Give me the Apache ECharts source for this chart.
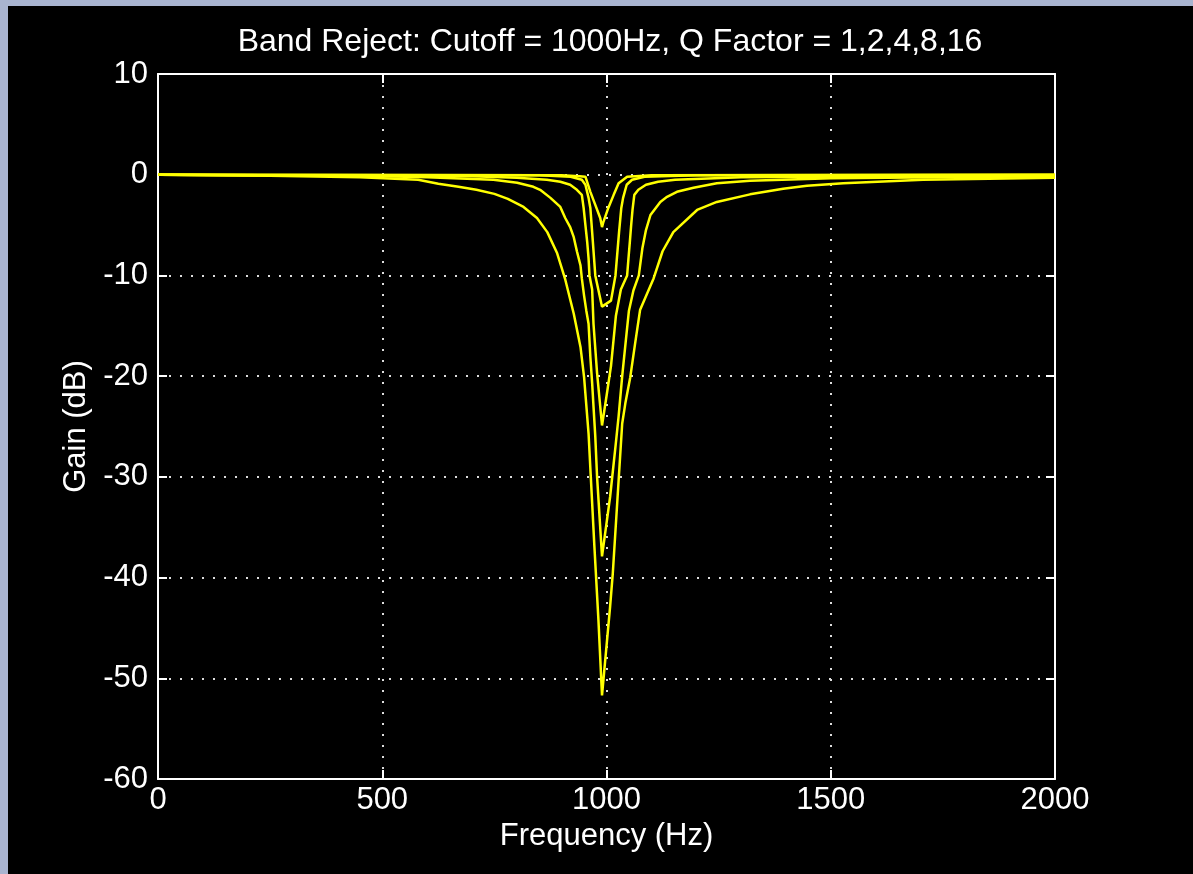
<!DOCTYPE html>
<html><head><meta charset="utf-8">
<script src="https://cdn.jsdelivr.net/npm/echarts@6/dist/echarts.min.js"></script>
<style>html,body{margin:0;padding:0;background:#000}#c{width:1193px;height:874px}</style>
</head><body><div id="c"></div>
<script>
const titleText = 'Band Reject: Cutoff = 1000Hz, Q Factor = 1,2,4,8,16';
const xTicks = [0, 500, 1000, 1500, 2000];
const yTicks = [10, 0, -10, -20, -30, -40, -50, -60];

const freqQ1 = [0, 250, 450, 580, 625, 670, 710, 750, 780, 815, 845, 868, 890, 908, 927, 942, 950, 960, 965, 973, 982, 990, 1008, 1014, 1024, 1035, 1042, 1053, 1064, 1075, 1105, 1125, 1149, 1202, 1246, 1320, 1394, 1447, 1528, 1706, 2000];
const gainQ1 = [0, -0.1, -0.25, -0.5, -0.9, -1.2, -1.5, -1.9, -2.4, -3.2, -4.3, -5.7, -7.8, -10.4, -13.8, -17.1, -20.1, -25.7, -30.0, -36.9, -44.2, -51.7, -42.9, -39.6, -32.5, -24.7, -22.7, -20.1, -16.7, -13.4, -10.3, -7.6, -5.7, -3.5, -2.7, -1.95, -1.4, -1.1, -0.85, -0.5, -0.3];

const freqQ2 = [0, 450, 600, 748, 801, 837, 852, 875, 897, 908, 919, 927, 934, 942, 945, 950, 955, 960, 964, 968, 971, 975, 979, 990, 1008, 1020, 1027, 1035, 1043, 1050, 1060, 1072, 1080, 1088, 1098, 1120, 1135, 1157, 1194, 1246, 1320, 1500, 2000];
const gainQ2 = [0, -0.1, -0.25, -0.5, -0.8, -1.2, -1.5, -2.3, -3.2, -4.3, -5.2, -6.2, -7.6, -9.0, -10.3, -12.0, -13.5, -14.8, -18.1, -20.7, -23.0, -26.0, -30.0, -37.9, -32.0, -27.0, -24.0, -20.0, -16.5, -13.5, -11.5, -10.0, -7.3, -5.5, -4.0, -2.7, -2.2, -1.7, -1.3, -0.85, -0.6, -0.35, -0.15];

const freqQ3 = [0, 700, 800, 867, 897, 919, 934, 945, 949, 953, 957, 960, 962, 968, 971, 979, 986, 990, 1000, 1010, 1021, 1032, 1046, 1049, 1052, 1055, 1058, 1062, 1071, 1088, 1115, 1153, 1300, 2000];
const gainQ3 = [0, -0.15, -0.3, -0.5, -0.7, -1.0, -1.5, -2.0, -3.3, -5.0, -6.7, -8.3, -10.0, -11.4, -14.8, -19.7, -23.0, -24.9, -22.0, -19.0, -14.0, -11.4, -10.0, -8.3, -6.7, -5.0, -3.5, -2.0, -1.5, -1.0, -0.7, -0.5, -0.25, -0.05];

const freqQ4 = [0, 850, 920, 945, 953, 960, 964, 968, 975, 990, 1010, 1020, 1028, 1033, 1037, 1045, 1057, 1085, 1200, 2000];
const gainQ4 = [0, -0.05, -0.2, -0.5, -1.0, -2.3, -3.3, -5.7, -10.0, -13.1, -12.5, -10.0, -5.7, -3.3, -2.3, -1.0, -0.5, -0.2, -0.05, 0];

const freqQ5 = [0, 900, 940, 953, 964, 975, 986, 990, 993, 1004, 1016, 1027, 1046, 1100, 2000];
const gainQ5 = [0, -0.05, -0.15, -0.2, -1.7, -3.0, -4.3, -5.2, -4.7, -3.3, -2.0, -0.85, -0.2, -0.05, 0];

const seriesNames = ['Q=1', 'Q=2', 'Q=4', 'Q=8', 'Q=16'];
const freqs = [freqQ1, freqQ2, freqQ3, freqQ4, freqQ5];
const gains = [gainQ1, gainQ2, gainQ3, gainQ4, gainQ5];

const FONT = 'Liberation Sans, Arial, sans-serif';
const WHITE = '#ffffff';
const gridDots = { color: '#dddddd', width: 2, type: [2, 9] };

const chart = echarts.init(document.getElementById('c'), null, { renderer: 'canvas' });
chart.setOption({
  backgroundColor: '#000000',
  animation: false,
  title: {
    text: titleText,
    left: 605, top: 21, textAlign: 'center',
    textStyle: { color: WHITE, fontSize: 32, fontWeight: 'normal', fontFamily: FONT }
  },
  graphic: [
    { type: 'rect', shape: { x: 0, y: 0, width: 1193, height: 6 }, style: { fill: '#a9b4d0' }, z: 100 },
    { type: 'rect', shape: { x: 0, y: 0, width: 8, height: 874 }, style: { fill: '#a9b4d0' }, z: 100 }
  ],
  grid: { left: 158, top: 74, right: 138, bottom: 95, containLabel: false },
  xAxis: [
    {
      type: 'value', min: xTicks[0], max: xTicks[xTicks.length - 1], interval: 500,
      name: 'Frequency (Hz)', nameLocation: 'middle', nameGap: 36,
      nameTextStyle: { color: WHITE, fontSize: 31, fontFamily: FONT },
      axisLine: { show: true, onZero: false, lineStyle: { color: WHITE, width: 2 } },
      axisTick: { show: true, inside: true, length: 9, lineStyle: { color: WHITE, width: 2 } },
      axisLabel: { color: WHITE, fontSize: 31, fontFamily: FONT, margin: 6, formatter: v => String(v) },
      splitLine: { show: true, lineStyle: gridDots }
    },
    {
      type: 'value', position: 'top', min: 0, max: 2000, interval: 500,
      axisLine: { show: true, onZero: false, lineStyle: { color: WHITE, width: 2 } },
      axisTick: { show: true, inside: true, length: 9, lineStyle: { color: WHITE, width: 2 } },
      axisLabel: { show: false }, splitLine: { show: false }
    }
  ],
  yAxis: [
    {
      type: 'value', min: yTicks[yTicks.length - 1], max: yTicks[0], interval: 10,
      name: 'Gain (dB)', nameLocation: 'middle', nameGap: 64, nameRotate: 90,
      nameTextStyle: { color: WHITE, fontSize: 31, fontFamily: FONT },
      axisLine: { show: true, onZero: false, lineStyle: { color: WHITE, width: 2 } },
      axisTick: { show: true, inside: true, length: 9, lineStyle: { color: WHITE, width: 2 } },
      axisLabel: { color: WHITE, fontSize: 31, fontFamily: FONT, margin: 10, formatter: v => String(v) },
      splitLine: { show: true, lineStyle: gridDots }
    },
    {
      type: 'value', position: 'right', min: -60, max: 10, interval: 10,
      axisLine: { show: true, onZero: false, lineStyle: { color: WHITE, width: 2 } },
      axisTick: { show: true, inside: true, length: 9, lineStyle: { color: WHITE, width: 2 } },
      axisLabel: { show: false }, splitLine: { show: false }
    }
  ],
  series: seriesNames.map((n, i) => ({
    name: n, type: 'line', xAxisIndex: 0, yAxisIndex: 0,
    showSymbol: false, symbol: 'none', smooth: false,
    lineStyle: { color: '#ffff00', width: 2.5 },
    data: freqs[i].map((f, k) => [f, gains[i][k]])
  }))
});
</script>
</body></html>
